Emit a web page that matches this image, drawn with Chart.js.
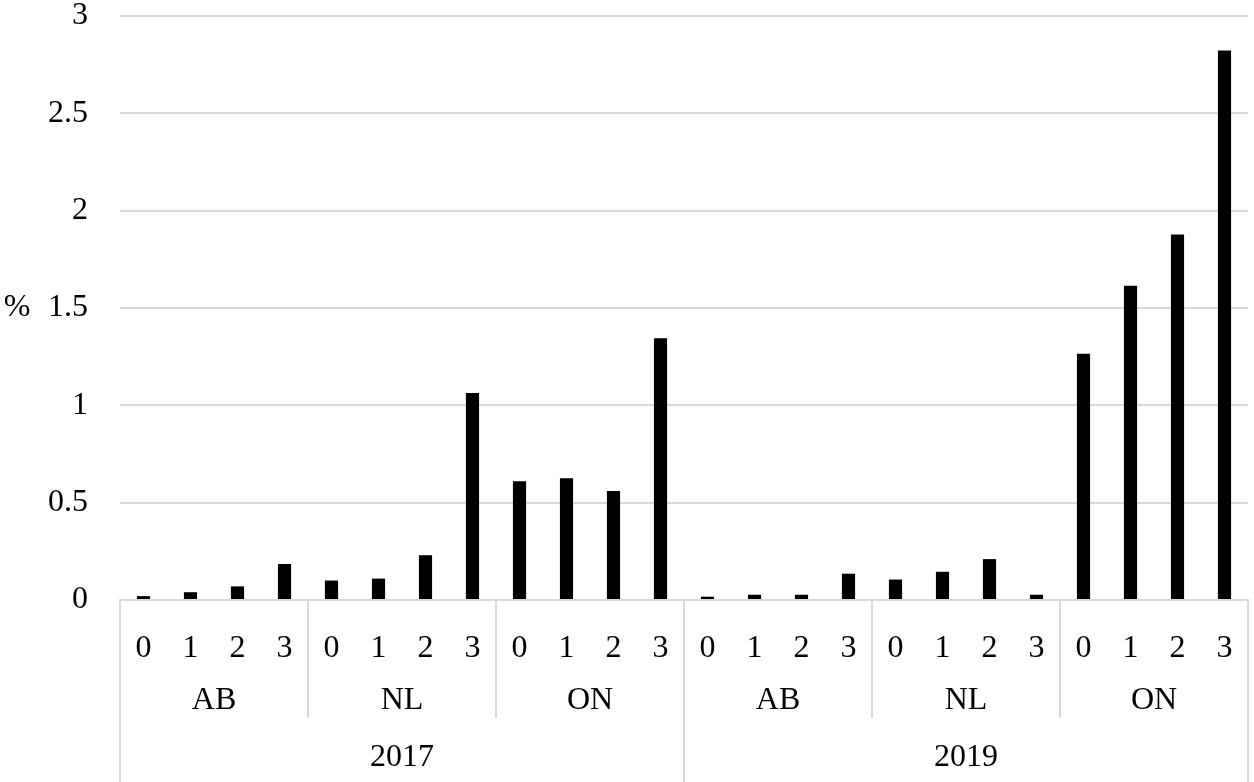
<!DOCTYPE html>
<html>
<head>
<meta charset="utf-8">
<script src="https://cdn.jsdelivr.net/npm/chart.js@4/dist/chart.umd.min.js"></script>
<style>
  html, body { margin: 0; padding: 0; background: #ffffff; }
  #wrap { width: 1254px; height: 782px; position: relative; }
</style>
</head>
<body>
<div id="wrap"><canvas id="c" width="1254" height="782"></canvas></div>
<script>
// ---- data ----
const subLabels = ['0', '1', '2', '3'];
const provinces = ['AB', 'NL', 'ON'];
const years = ['2017', '2019'];
const values2017AB = [0.02, 0.04, 0.07, 0.185];
const values2017NL = [0.10, 0.11, 0.23, 1.063];
const values2017ON = [0.61, 0.625, 0.56, 1.345];
const values2019AB = [0.017, 0.027, 0.027, 0.135];
const values2019NL = [0.105, 0.145, 0.21, 0.027];
const values2019ON = [1.265, 1.614, 1.877, 2.823];
const yTicks = [0, 0.5, 1, 1.5, 2, 2.5, 3];
const yTitle = '%';

// build flat arrays
const labels = [];
years.forEach(() => provinces.forEach(() => subLabels.forEach(s => labels.push(s))));
const values = [].concat(values2017AB, values2017NL, values2017ON,
                         values2019AB, values2019NL, values2019ON);

const FONT = 'Liberation Serif';
const FSIZE = 32;
const GRID = '#d9d9d9';

const groupPlugin = {
  id: 'groupAxis',
  afterDraw(chart) {
    const ctx = chart.ctx;
    const xs = chart.scales.x;
    const area = chart.chartArea;
    const n = labels.length;
    const step = xs.getPixelForValue(1) - xs.getPixelForValue(0);
    const edge = i => xs.getPixelForValue(i) - step / 2;
    const base = area.bottom;
    const perYear = provinces.length * subLabels.length;
    ctx.save();
    ctx.strokeStyle = GRID;
    ctx.lineWidth = 2;
    for (let i = 0; i <= n; i += subLabels.length) {
      const x = Math.round(edge(i));
      const isYear = (i % perYear === 0);
      ctx.beginPath();
      ctx.moveTo(x, base);
      ctx.lineTo(x, isYear ? 782 : 718);
      ctx.stroke();
    }
    ctx.fillStyle = '#000';
    ctx.font = FSIZE + 'px "' + FONT + '"';
    ctx.textAlign = 'center';
    ctx.textBaseline = 'middle';
    years.forEach((y, yi) => {
      provinces.forEach((p, pi) => {
        const start = yi * perYear + pi * subLabels.length;
        const cx = (edge(start) + edge(start + subLabels.length)) / 2;
        ctx.fillText(p, cx, 701);
      });
      const cx = (edge(yi * perYear) + edge((yi + 1) * perYear)) / 2;
      ctx.fillText(y, cx, 758);
    });
    ctx.fillText(yTitle, 17, (area.top + area.bottom) / 2);
    ctx.restore();
  }
};

new Chart(document.getElementById('c'), {
  type: 'bar',
  data: {
    labels: labels,
    datasets: [{
      data: values,
      backgroundColor: '#000000',
      borderWidth: 0,
      barPercentage: 0.28,
      categoryPercentage: 1.0
    }]
  },
  options: {
    responsive: false,
    animation: false,
    devicePixelRatio: 1,
    layout: { padding: { top: 16, right: 6, left: 0, bottom: 0 } },
    plugins: { legend: { display: false }, tooltip: { enabled: false } },
    scales: {
      x: {
        grid: { display: false },
        border: { display: true, color: GRID, width: 2 },
        ticks: {
          color: '#000',
          font: { family: FONT, size: FSIZE },
          padding: 21,
          maxRotation: 0,
          autoSkip: false
        },
        afterFit(scale) {
          scale.height = 182;
          scale.paddingLeft = 0; scale.paddingRight = 0;
        }
      },
      y: {
        min: 0,
        max: 3,
        afterBuildTicks(scale) { scale.ticks = yTicks.map(v => ({ value: v })); },
        grid: { color: GRID, lineWidth: 2, drawTicks: false },
        border: { display: false },
        ticks: {
          color: '#000',
          font: { family: FONT, size: FSIZE },
          padding: 32,
          callback: v => String(v)
        },
        afterFit(scale) {
          scale.width = 120;
          scale.paddingTop = 0; scale.paddingBottom = 0;
        }
      }
    }
  },
  plugins: [groupPlugin]
});
</script>
</body>
</html>
